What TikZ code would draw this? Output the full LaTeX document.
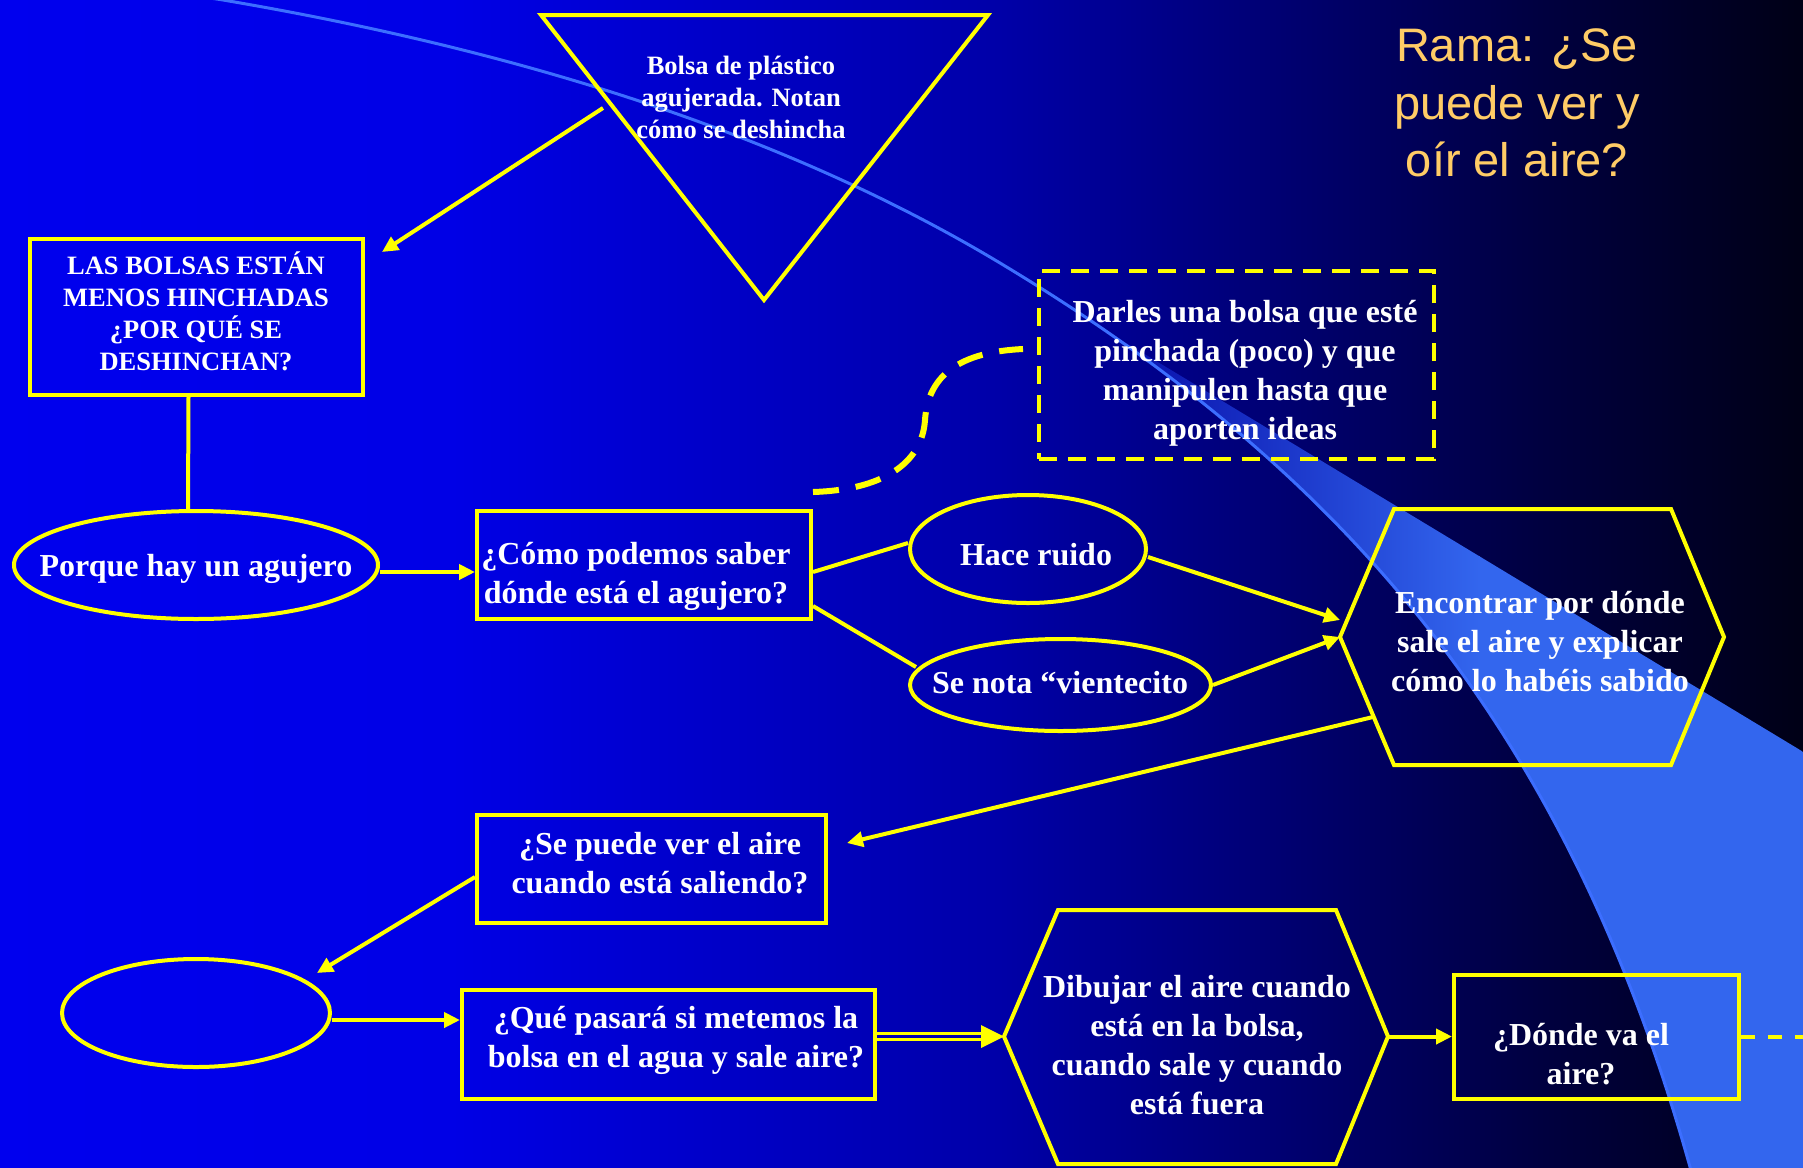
\documentclass[tikz,border=0pt]{standalone}
\usepackage{fontspec}
\setmainfont{Liberation Serif}
\newfontfamily\titlefont{Liberation Sans}
\usetikzlibrary{arrows.meta,shapes.geometric,calc}

\definecolor{yl}{RGB}{255,255,0}
\definecolor{bgA}{RGB}{0,0,238}
\definecolor{bgB}{RGB}{0,0,230}
\definecolor{bgC}{RGB}{0,0,168}
\definecolor{bgD}{RGB}{0,0,110}
\definecolor{bgE}{RGB}{0,0,62}
\definecolor{bgF}{RGB}{0,0,22}
\definecolor{bandc}{RGB}{51,102,238}
\definecolor{bandL}{RGB}{0,0,160}
\definecolor{thinc}{RGB}{60,110,255}
\definecolor{titlec}{RGB}{255,204,102}

\pgfdeclarehorizontalshading{bgsh}{100bp}{color(0bp)=(bgA); color(25bp)=(bgA); color(37.5bp)=(bgB); color(52.7bp)=(bgC); color(61bp)=(bgD); color(68bp)=(bgE); color(75bp)=(bgF); color(100bp)=(bgF)}

\tikzset{
  shp/.style={draw=yl, line width=4pt},
  boxn/.style={shp, rectangle, inner sep=0pt},
  elln/.style={shp, ellipse, inner sep=0pt},
  txt/.style={text=white, align=center, inner sep=0pt, font=\bfseries\fontsize{32}{39}\selectfont},
  txtsm/.style={text=white, align=center, inner sep=0pt, font=\bfseries\fontsize{26.5}{32}\selectfont},
  conn/.style={draw=yl, line width=4pt},
  arr/.style={conn, -{Triangle[length=16pt,width=15pt]}},
}

\begin{document}
\begin{tikzpicture}[x=1pt,y=-1pt]
\useasboundingbox (0,0) rectangle (1803,1167);
\shade[shading=bgsh] (0,0) rectangle (1803,1167);

% light blue band
\begin{scope}
\clip (1000,263) .. controls (1367.5,483.5) and (1574.5,754.7) .. (1690,1167) -- (1692,1180) -- (1810,1180) -- (1810,756) -- (1080,315) -- cycle;
\shade[left color=bandL, right color=bandc] (1060,250) rectangle (1480,1180);
\fill[bandc] (1479,250) rectangle (1810,1180);
\end{scope}
\draw[thinc, line width=3pt] (210,-2) -- (223,0) .. controls (538,53.5) and (797,141) .. (1000,263) .. controls (1367.5,483.5) and (1574.5,754.7) .. (1690,1167) -- (1692,1175);

% triangle
\draw[shp] (541,15) -- (988,15) -- (764,300) -- cycle;
\node[txtsm] (triT) at (741,97) {Bolsa de plástico\\agujerada. Notan\\cómo se deshincha};
\coordinate (triA) at (603,108);

% boxes
\node[boxn, minimum width=333pt, minimum height=156pt] (las) at (196.5,317) {};
\node[txtsm] (lasT) at (196,311) {LAS BOLSAS ESTÁN\\MENOS HINCHADAS\\¿POR QUÉ SE\\DESHINCHAN?};

\node[elln, minimum width=364pt, minimum height=108pt] (porque) at (196,565) {};
\node[txt] (porqueT) at (196,569) {Porque hay un agujero};

\node[boxn, minimum width=334pt, minimum height=108pt] (como) at (644,565) {};
\node[txt] (comoT) at (636,576) {¿Cómo podemos saber\\dónde está el agujero?};

\node[boxn, dash pattern=on 18pt off 11pt, minimum width=395pt, minimum height=188pt] (dbox) at (1236.5,365) {};
\node[txt] (dboxT) at (1245,373) {Darles una bolsa que esté\\pinchada (poco) y que\\manipulen hasta que\\aporten ideas};

\node[elln, minimum width=236pt, minimum height=108pt] (hace) at (1028,549) {};
\node[txt] (haceT) at (1036,555) {Hace ruido};

\node[elln, minimum width=301pt, minimum height=92pt] (senota) at (1060.5,685) {};
\node[txt] (senotaT) at (1060,683) {Se nota “vientecito};

% hexagon 1
\coordinate (h1L) at (1340,637);
\draw[shp] (h1L) -- (1394,509) -- (1671,509) -- (1724,637) -- (1671,765) -- (1394,765) -- cycle;
\node[txt] (h1T) at (1540,642) {Encontrar por dónde\\sale el aire y explicar\\cómo lo habéis sabido};
\coordinate (h1e) at (1373,717);

\node[boxn, minimum width=349pt, minimum height=108pt] (sepuede) at (651.5,869) {};
\node[txt] (sepuedeT) at (660,863) {¿Se puede ver el aire\\cuando está saliendo?};

\node[elln, minimum width=268pt, minimum height=108pt] (empty) at (196,1013) {};

\node[boxn, minimum width=413pt, minimum height=109pt] (que) at (668.5,1044.5) {};
\node[txt] (queT) at (676,1040) {¿Qué pasará si metemos la\\bolsa en el agua y sale aire?};

% hexagon 2
\coordinate (h2L) at (1004,1036.5);
\coordinate (h2R) at (1388,1036.5);
\draw[shp] (h2L) -- (1058,910) -- (1336,910) -- (h2R) -- (1336,1164) -- (1058,1164) -- cycle;
\node[txt] (h2T) at (1197,1045) {Dibujar el aire cuando\\está en la bolsa,\\cuando sale y cuando\\está fuera};

\node[boxn, minimum width=285pt, minimum height=124pt] (donde) at (1596.5,1036.5) {};
\node[txt] (dondeT) at (1581,1054) {¿Dónde va el\\aire?};

% title
\node[text=titlec, align=center, inner sep=0pt, font=\titlefont\fontsize{47}{57.5}\selectfont] (title) at (1517,103) {Rama: ¿Se\\puede ver y\\oír el aire?};

% connectors
\draw[arr] (triA) -- ($(las.north east)+(17,15)$);
\draw[conn] ([xshift=-8pt]las.south) -- ([xshift=-8pt]porque.north);
\draw[arr] ([yshift=-7pt]porque.east) -- ([yshift=-7pt]como.west);
\coordinate (dcA) at (813,492);
\coordinate (dcB) at (1023,349);
\draw[draw=yl, line width=6pt, dash pattern=on 26pt off 17pt] (dcA) .. controls (880,490) and (922,465) .. (925,420) .. controls (928,375) and (960,352) .. (dcB);
\draw[conn] ([yshift=-7pt]como.east) -- ([yshift=6pt]hace.west);
\draw[conn] ([yshift=-41pt]como.east) -- ($(senota.west)+(8,-18)$);
\draw[arr] ([yshift=-8pt]hace.east) -- ($(h1L)+(0,-17)$);
\draw[arr] (senota.east) -- (h1L);
\draw[arr] (h1e) -- ($(sepuede.east)+(19,-26)$);
\draw[arr] ($(sepuede.west)+(0,8)$) -- ($(empty.center)+(121,-40)$);
\coordinate (e1) at ($(empty.east)+(0,7)$);
\draw[arr] (e1) -- (e1 -| que.west);
\coordinate (e2) at ($(que.east)+(0,-8)$);
\draw[draw=yl, line width=2.7pt] ($(e2)+(0,-2.7)$) -- ($(h2L)+(-21,-2.7)$);
\draw[draw=yl, line width=2.7pt] ($(e2)+(0,2.7)$) -- ($(h2L)+(-21,2.7)$);
\fill[yl] (h2L) -- ++(-23,-11.5) -- ++(0,23) -- cycle;
\draw[arr] (h2R) -- (h2R -| donde.west);
\coordinate (rEdge) at (1803,1036.5);
\draw[conn, dash pattern=on 14pt off 13pt] (donde.east) -- (rEdge);
\end{tikzpicture}
\end{document}
